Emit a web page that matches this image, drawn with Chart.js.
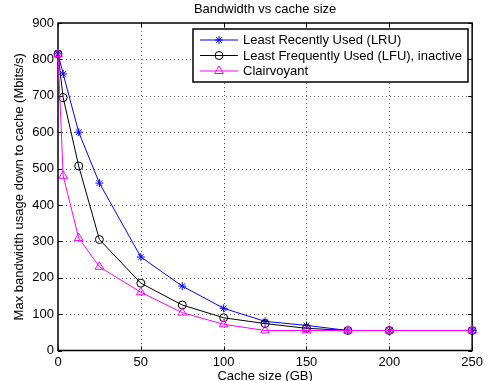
<!DOCTYPE html>
<html><head><meta charset="utf-8">
<script src="https://cdn.jsdelivr.net/npm/chart.js@4/dist/chart.umd.min.js"></script>
<style>html,body{margin:0;padding:0;background:#fff;overflow:hidden}canvas{display:block}</style>
</head><body><canvas id="c" width="487" height="381"></canvas>
<script>
const cacheSizes = [0, 3.125, 12.5, 25, 50, 75, 100, 125, 150, 175, 200, 250];
const lruValues = [815, 760, 600, 460, 257, 177, 116, 80, 69, 55, 55, 55];
const lfuValues = [815, 695, 507, 305, 185, 125, 90, 74, 61, 55, 55, 55];
const clairValues = [815, 480, 309, 230, 160, 104, 72, 55, 55, 55, 55, 55];
const seriesLabels = ['Least Recently Used (LRU)', 'Least Frequently Used (LFU), inactive', 'Clairvoyant'];
const xTicks = [0, 50, 100, 150, 200, 250];
const yTicks = [0, 100, 200, 300, 400, 500, 600, 700, 800, 900];
const titleText = 'Bandwidth vs cache size';
const xTitle = 'Cache size (GB)';
const yTitle = 'Max bandwidth usage down to cache (Mbits/s)';

const FONT = 'Liberation Sans, Arial, Helvetica, sans-serif';
const FS = 13;
const toPts = (vals) => cacheSizes.map((x, i) => ({x: x, y: vals[i]}));

const decor = {
  id: 'decor',
  beforeDatasetsDraw(chart) {
    const {ctx, chartArea: a, scales: {x, y}} = chart;
    ctx.save();
    ctx.strokeStyle = 'rgba(60,60,60,0.8)';
    ctx.lineWidth = 1;
    ctx.setLineDash([1, 3]);
    xTicks.forEach(v => {
      if (v <= x.min || v >= x.max) return;
      const px = Math.round(x.getPixelForValue(v)) + 0.5;
      ctx.beginPath(); ctx.moveTo(px, a.top); ctx.lineTo(px, a.bottom); ctx.stroke();
    });
    yTicks.forEach(v => {
      if (v <= y.min || v >= y.max) return;
      const py = Math.round(y.getPixelForValue(v)) + 0.5;
      ctx.beginPath(); ctx.moveTo(a.left, py); ctx.lineTo(a.right, py); ctx.stroke();
    });
    ctx.setLineDash([]);
    ctx.strokeStyle = '#000';
    ctx.lineWidth = 1;
    const tl = 4;
    xTicks.forEach(v => {
      const px = Math.round(x.getPixelForValue(v)) + 0.5;
      ctx.beginPath();
      ctx.moveTo(px, a.bottom); ctx.lineTo(px, a.bottom - tl);
      ctx.moveTo(px, a.top); ctx.lineTo(px, a.top + tl);
      ctx.stroke();
    });
    yTicks.forEach(v => {
      const py = Math.round(y.getPixelForValue(v)) + 0.5;
      ctx.beginPath();
      ctx.moveTo(a.left, py); ctx.lineTo(a.left + tl, py);
      ctx.moveTo(a.right, py); ctx.lineTo(a.right - tl, py);
      ctx.stroke();
    });
    ctx.lineWidth = 1.5;
    ctx.strokeRect(a.left, a.top, a.right - a.left, a.bottom - a.top);
    ctx.restore();
  },
  afterDraw(chart) {
    const {ctx, chartArea: a} = chart;
    ctx.save();
    // title
    ctx.fillStyle = '#000';
    ctx.font = FS + 'px ' + FONT;
    ctx.textAlign = 'center';
    ctx.textBaseline = 'middle';
    ctx.fillText(titleText, (a.left + a.right) / 2, 9);
    // legend
    const bx = 193, by = 29, bw = 275, bh = 53;
    ctx.fillStyle = '#fff';
    ctx.fillRect(bx, by, bw, bh);
    ctx.strokeStyle = '#000';
    ctx.lineWidth = 1.5;
    ctx.strokeRect(bx, by, bw, bh);
    const rows = [40, 55.5, 71];
    chart.data.datasets.forEach((ds, i) => {
      const ry = rows[i];
      ctx.strokeStyle = ds.borderColor;
      ctx.lineWidth = 1;
      ctx.beginPath(); ctx.moveTo(200, ry); ctx.lineTo(238, ry); ctx.stroke();
      ctx.fillStyle = 'rgba(0,0,0,0)';
      Chart.helpers.drawPoint(ctx, {pointStyle: ds.pointStyle, radius: ds.pointRadius, rotation: 0, borderWidth: 1}, 219, ry);
      ctx.fillStyle = '#000';
      ctx.font = FS + 'px ' + FONT;
      ctx.textAlign = 'left';
      ctx.textBaseline = 'middle';
      ctx.fillText(ds.label, 243, ry + 0.5);
    });
    ctx.restore();
  }
};

const common = {borderWidth: 1, pointBorderWidth: 1, tension: 0, clip: false, backgroundColor: 'rgba(0,0,0,0)', pointBackgroundColor: 'rgba(0,0,0,0)'};

new Chart(document.getElementById('c'), {
  type: 'line',
  data: {
    datasets: [
      Object.assign({label: seriesLabels[0], data: toPts(lruValues), borderColor: '#0000ff', pointBorderColor: '#0000ff', pointStyle: 'star', pointRadius: 4, order: 3}, common),
      Object.assign({label: seriesLabels[1], data: toPts(lfuValues), borderColor: '#000000', pointBorderColor: '#000000', pointStyle: 'circle', pointRadius: 4, order: 2}, common),
      Object.assign({label: seriesLabels[2], data: toPts(clairValues), borderColor: '#ff00ff', pointBorderColor: '#ff00ff', pointStyle: 'triangle', pointRadius: 5, order: 1}, common)
    ]
  },
  options: {
    responsive: false, animation: false, devicePixelRatio: 1,
    layout: {padding: {top: 23, right: 13, left: 0, bottom: 0}},
    plugins: {legend: {display: false}, tooltip: {enabled: false}, title: {display: false}},
    scales: {
      x: {
        type: 'linear', min: 0, max: 250,
        afterBuildTicks: s => { s.ticks = xTicks.map(v => ({value: v})); },
        afterFit: s => { s.height = 30.5; },
        grid: {display: false, drawTicks: false}, border: {display: false},
        ticks: {color: '#000', font: {family: FONT, size: FS}, padding: 4, maxRotation: 0, autoSkip: false},
        title: {display: true, text: xTitle, color: '#000', font: {family: FONT, size: FS, lineHeight: 1}, padding: {top: 0, bottom: -1.5}}
      },
      y: {
        type: 'linear', min: 0, max: 900,
        afterBuildTicks: s => { s.ticks = yTicks.map(v => ({value: v})); },
        afterFit: s => { s.width = 58; },
        grid: {display: false, drawTicks: false}, border: {display: false},
        ticks: {color: '#000', font: {family: FONT, size: FS}, padding: 4, autoSkip: false},
        title: {display: true, text: yTitle, color: '#000', font: {family: FONT, size: FS, lineHeight: 1.2}, padding: {top: 12, bottom: 0}}
      }
    }
  },
  plugins: [decor]
});
</script>
</body></html>
